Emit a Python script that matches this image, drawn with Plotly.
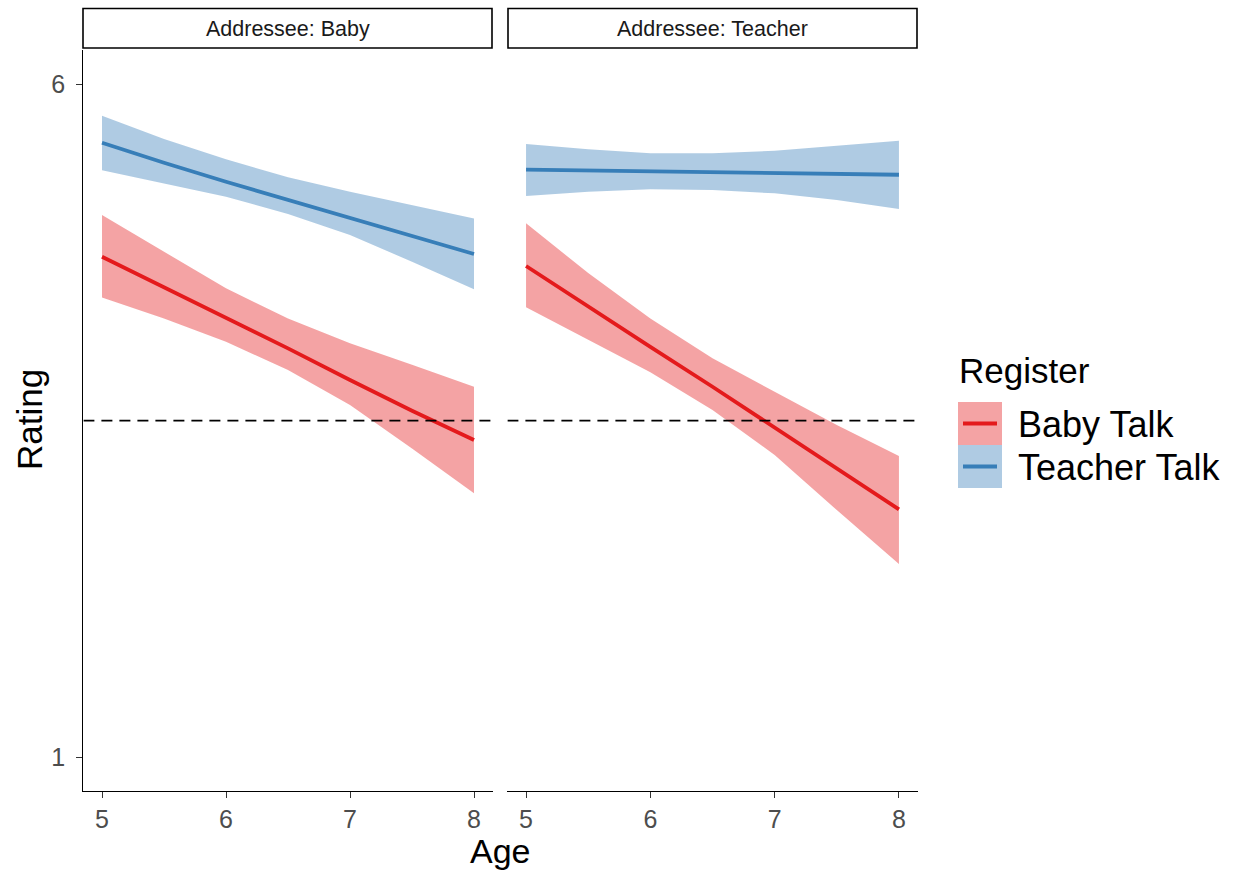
import plotly.graph_objects as go

W, H = 1235, 875

ages = [5, 5.5, 6, 6.5, 7, 7.5, 8]
panels = ["Addressee: Baby", "Addressee: Teacher"]
series = ["Baby Talk", "Teacher Talk"]

# Addressee: Baby
ab_baby_fit = [4.717, 4.490, 4.267, 4.036, 3.801, 3.573, 3.355]
ab_baby_lo = [4.415, 4.259, 4.085, 3.875, 3.615, 3.293, 2.959]
ab_baby_hi = [5.027, 4.754, 4.482, 4.259, 4.074, 3.915, 3.751]
ab_teach_fit = [5.564, 5.415, 5.274, 5.138, 5.002, 4.866, 4.737]
ab_teach_lo = [5.359, 5.262, 5.163, 5.034, 4.878, 4.680, 4.475]
ab_teach_hi = [5.764, 5.591, 5.441, 5.307, 5.200, 5.101, 5.002]

# Addressee: Teacher
at_baby_fit = [4.648, 4.346, 4.048, 3.751, 3.449, 3.145, 2.840]
at_baby_lo = [4.341, 4.098, 3.858, 3.578, 3.244, 2.835, 2.434]
at_baby_hi = [4.965, 4.596, 4.259, 3.962, 3.714, 3.467, 3.236]
at_teach_fit = [5.364, 5.358, 5.352, 5.345, 5.339, 5.332, 5.326]
at_teach_lo = [5.168, 5.200, 5.218, 5.212, 5.188, 5.138, 5.071]
at_teach_hi = [5.554, 5.515, 5.485, 5.485, 5.504, 5.539, 5.579]

reference_line = 3.5
x_ticks = [5, 6, 7, 8]
y_ticks = [1, 6]

line_colors = {"Baby Talk": "#E41A1C", "Teacher Talk": "#377EB8"}
fill_colors = {"Baby Talk": "rgba(228,26,28,0.4)", "Teacher Talk": "rgba(55,126,184,0.4)"}

data = {
    ("x", "y"): {"Baby Talk": (ab_baby_fit, ab_baby_lo, ab_baby_hi),
                 "Teacher Talk": (ab_teach_fit, ab_teach_lo, ab_teach_hi)},
    ("x2", "y2"): {"Baby Talk": (at_baby_fit, at_baby_lo, at_baby_hi),
                   "Teacher Talk": (at_teach_fit, at_teach_lo, at_teach_hi)},
}

FONT = "Liberation Sans, Arial, sans-serif"

fig = go.Figure()
for (xa, ya), d in data.items():
    for s in series:
        fit, lo, hi = d[s]
        fig.add_trace(go.Scatter(x=ages, y=hi, xaxis=xa, yaxis=ya, mode="lines",
                                 line=dict(width=0), showlegend=False, hoverinfo="skip"))
        fig.add_trace(go.Scatter(x=ages, y=lo, xaxis=xa, yaxis=ya, mode="lines",
                                 line=dict(width=0), fill="tonexty",
                                 fillcolor=fill_colors[s], showlegend=False, hoverinfo="skip"))
    for s in series:
        fit, lo, hi = d[s]
        fig.add_trace(go.Scatter(x=ages, y=fit, xaxis=xa, yaxis=ya, mode="lines",
                                 line=dict(color=line_colors[s], width=3.8),
                                 showlegend=False, name=s))
    fig.add_trace(go.Scatter(x=[4.85, 8.15], y=[reference_line, reference_line],
                             xaxis=xa, yaxis=ya, mode="lines",
                             line=dict(color="black", width=1.7, dash="11px,7px"),
                             showlegend=False, hoverinfo="skip"))


def px(x):
    return x / W


def py(y):
    return 1 - y / H


ydom = [py(790.7), py(50.4)]
xdom1 = [px(83.4), px(492.6)]
xdom2 = [px(507.4), px(917.6)]

TICKFONT = dict(family=FONT, size=25, color="#4D4D4D")
xaxis_common = dict(range=[4.85, 8.15], tickvals=x_ticks, ticktext=[str(t) for t in x_ticks],
                    showgrid=False, zeroline=False, showline=True, linecolor="black",
                    linewidth=1.4, ticks="outside", ticklen=6, tickwidth=1.3,
                    tickcolor="#333333", tickfont=TICKFONT)
yaxis_common = dict(range=[0.75, 6.25], tickvals=y_ticks, ticktext=[str(t) for t in y_ticks],
                    showgrid=False, zeroline=False, domain=ydom)

fig.update_layout(
    width=W, height=H,
    margin=dict(l=0, r=0, t=0, b=0),
    paper_bgcolor="white", plot_bgcolor="white",
    showlegend=False,
    xaxis=dict(**xaxis_common, domain=xdom1, anchor="y"),
    xaxis2=dict(**xaxis_common, domain=xdom2, anchor="y2"),
    yaxis=dict(**yaxis_common, anchor="x", showline=True, linecolor="black", linewidth=1.4,
               ticks="outside", ticklen=6, tickwidth=1.3, tickcolor="#333333",
               tickfont=TICKFONT, ticklabelstandoff=6),
    yaxis2=dict(**yaxis_common, anchor="x2", showline=False, showticklabels=False, ticks=""),
)

shapes = []
annotations = []

# facet strips
for (x0, x1), label in zip([(83, 492), (508, 917)], panels):
    shapes.append(dict(type="rect", xref="paper", yref="paper",
                       x0=px(x0), x1=px(x1), y0=py(48), y1=py(8.5),
                       line=dict(color="black", width=1.6), fillcolor="white"))
    annotations.append(dict(text=label, xref="paper", yref="paper",
                            x=px((x0 + x1) / 2), y=py(28.5), xanchor="center", yanchor="middle",
                            showarrow=False, font=dict(family=FONT, size=21.5, color="#1A1A1A")))

# axis titles
annotations.append(dict(text="Age", xref="paper", yref="paper", x=px(500), y=py(851),
                        xanchor="center", yanchor="middle", showarrow=False,
                        font=dict(family=FONT, size=34, color="black")))
annotations.append(dict(text="Rating", xref="paper", yref="paper", x=px(29), y=py(420),
                        xanchor="center", yanchor="middle", showarrow=False, textangle=-90,
                        font=dict(family=FONT, size=35, color="black")))

# legend (manual)
annotations.append(dict(text="Register", xref="paper", yref="paper", x=px(957), y=py(371),
                        xanchor="left", yanchor="middle", showarrow=False,
                        font=dict(family=FONT, size=35, color="black")))
for i, s in enumerate(series):
    top = 402 + i * 43
    shapes.append(dict(type="rect", xref="paper", yref="paper",
                       x0=px(958), x1=px(1002), y0=py(top + 43), y1=py(top),
                       line=dict(width=0), fillcolor=fill_colors[s]))
    shapes.append(dict(type="line", xref="paper", yref="paper",
                       x0=px(963), x1=px(997), y0=py(top + 21.5), y1=py(top + 21.5),
                       line=dict(color=line_colors[s], width=4)))
    annotations.append(dict(text=s, xref="paper", yref="paper", x=px(1016), y=py(top + 22),
                            xanchor="left", yanchor="middle", showarrow=False,
                            font=dict(family=FONT, size=36, color="black")))

fig.update_layout(shapes=shapes, annotations=annotations)
fig.write_html(
    "out.html",
    config={"displayModeBar": False},
    post_script="document.body.style.margin='0';document.body.style.overflow='hidden';",
)
